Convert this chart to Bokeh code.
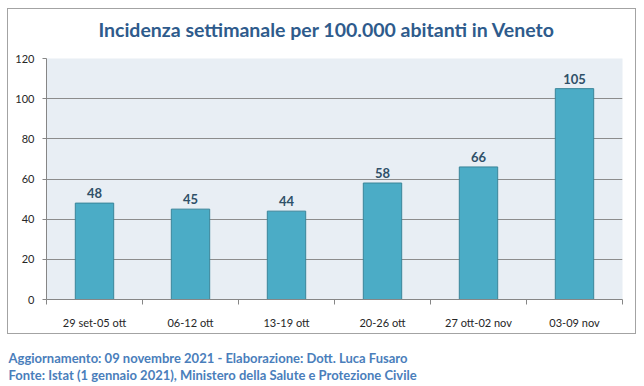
from bokeh.plotting import figure
from bokeh.models import ColumnDataSource, Range1d, FixedTicker, Spacer
from bokeh.layouts import column, row
from bokeh.core.properties import value
from bokeh.embed import file_html
from bokeh.resources import INLINE

# ---- data ----
title_text = "Incidenza settimanale per 100.000 abitanti in Veneto"
categories = ["29 set-05 ott", "06-12 ott", "13-19 ott", "20-26 ott", "27 ott-02 nov", "03-09 nov"]
values = [48, 45, 44, 58, 66, 105]
y_ticks = [0, 20, 40, 60, 80, 100, 120]
footer_lines = ["Aggiornamento: 09 novembre 2021 - Elaborazione: Dott. Luca Fusaro",
                "Fonte: Istat (1 gennaio 2021), Ministero della Salute e Protezione Civile"]

FONT = "Lato"

xs = [i + 0.5 for i in range(len(categories))]
src = ColumnDataSource(dict(x=xs, top=values, label=[str(v) for v in values]))

CW, CH = 627, 324   # content size inside the 1px chart border
TH = 40             # title strip height


def blank_figure(w, h, x0, x1, y0, y1):
    fig = figure(width=w, height=h, output_backend="svg", toolbar_location=None,
                 x_range=Range1d(x0, x1), y_range=Range1d(y0, y1),
                 x_axis_type=None, y_axis_type=None, title=None,
                 min_border=0, min_border_left=0, min_border_right=0,
                 min_border_top=0, min_border_bottom=0)
    fig.outline_line_color = None
    fig.xgrid.grid_line_color = None
    fig.ygrid.grid_line_color = None
    fig.background_fill_color = "white"
    fig.border_fill_color = "white"
    return fig


# title strip (data coords = pixels, y downward)
t = blank_figure(CW, TH, 0, CW, TH, 0)
t.text(x=[305], y=[20], text=[title_text], text_align="center", text_baseline="middle",
       text_font=value(FONT), text_font_style="bold", text_font_size="19.5px",
       text_color="#2e5b8c")

# chart
p = figure(width=CW, height=CH - TH, output_backend="svg", toolbar_location=None,
           x_range=Range1d(0, len(categories)), y_range=Range1d(0, 120),
           min_border_left=38, min_border_right=13, min_border_top=49 - TH, min_border_bottom=34,
           title=None)
p.background_fill_color = "#e8eef4"
p.border_fill_color = "white"
p.outline_line_color = None

p.vbar(x="x", top="top", width=0.4, source=src,
       fill_color="#4bacc6", line_color="#3a8599", line_width=1)
p.text(x="x", y="top", text="label", source=src, y_offset=-5,
       text_align="center", text_baseline="bottom",
       text_font=value(FONT), text_font_style="bold", text_font_size="13px",
       text_color="#2f5068")

xa = p.xaxis[0]
xa.ticker = FixedTicker(ticks=xs, minor_ticks=list(range(len(categories) + 1)))
xa.major_label_overrides = {x: c for x, c in zip(xs, categories)}
xa.major_tick_out = 0
xa.major_tick_in = 0
xa.minor_tick_out = 5
xa.minor_tick_in = 0
xa.minor_tick_line_color = "#868686"
xa.axis_line_color = "#868686"
xa.major_label_standoff = 11
xa.major_label_text_font = FONT
xa.major_label_text_font_size = "11px"
xa.major_label_text_color = "#262626"

ya = p.yaxis[0]
ya.ticker = FixedTicker(ticks=y_ticks)
ya.major_tick_out = 4
ya.major_tick_in = 0
ya.minor_tick_out = 0
ya.minor_tick_in = 0
ya.major_tick_line_color = "#868686"
ya.axis_line_color = "#868686"
ya.major_label_standoff = 8
ya.major_label_text_font = FONT
ya.major_label_text_font_size = "11px"
ya.major_label_text_color = "#262626"

p.xgrid.grid_line_color = None
p.ygrid.grid_line_color = "#8c8c8c"
p.ygrid.ticker = FixedTicker(ticks=y_ticks)

box = column(t, p, styles={"border": "1px solid #a3a3a3"})

# footer (data coords = page pixels)
f = blank_figure(644, 386 - 334, 0, 644, 386, 334)
fsrc = ColumnDataSource(dict(x=[8, 8], y=[357, 374], t=footer_lines))
f.text(x="x", y="y", text="t", source=fsrc, text_align="left", text_baseline="middle",
       text_font=value(FONT), text_font_style="bold", text_font_size="13px",
       text_color="#4a7ebb")

layout = column(Spacer(height=8), row(Spacer(width=7), box), f)
open("out.html", "w").write(file_html(layout, INLINE))
